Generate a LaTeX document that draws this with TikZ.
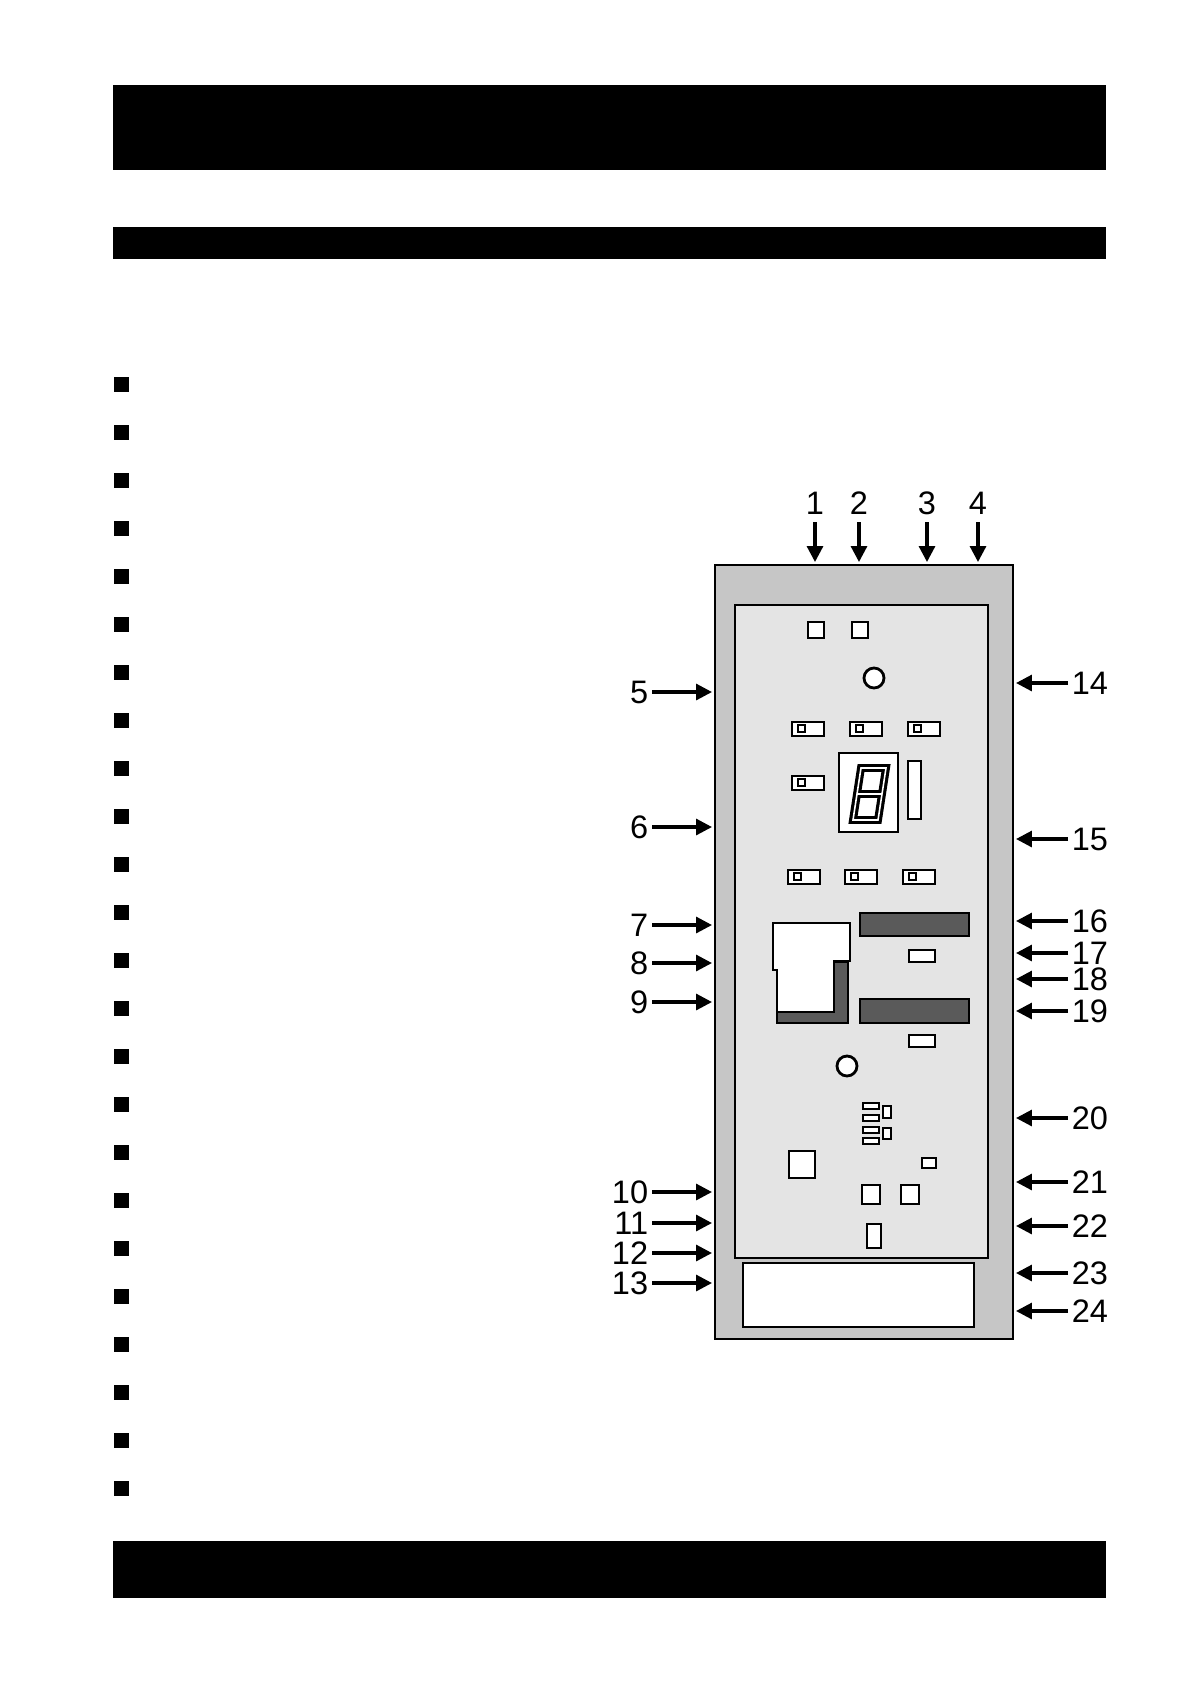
\documentclass[tikz,border=0pt]{standalone}
\usepackage{fontspec}
\setmainfont{Liberation Sans}
\usetikzlibrary{arrows.meta}

\definecolor{panelgray}{HTML}{C6C6C6}
\definecolor{facegray}{HTML}{E4E4E4}
\definecolor{bargray}{HTML}{5A5A5A}

\begin{document}
\begin{tikzpicture}[%
      x=0.02cm, y=-0.02cm,
      part/.style={draw=black, line width=1.6pt, fill=white},
      callout/.style={line width=1.8pt, -{Triangle[length=9pt,width=9pt]}},
      num/.style={font=\fontsize{18.5}{20}\selectfont, inner sep=2pt},
      ]
      \useasboundingbox (0,0) rectangle (1191,1684);

      % header and footer bars
      \fill [black] (113,85) rectangle (1106,170);
      \fill [black] (113,227) rectangle (1106,259);
      \fill [black] (113,1541) rectangle (1106,1598);

      % bullets
      \foreach \i in {0,...,23}
        \fill [black] (114,{377+48*\i}) rectangle (129,{392+48*\i});

      % panel
      \draw [line width=1.6pt, fill=panelgray] (715,565) rectangle (1013,1339);
      \draw [line width=1.6pt, fill=facegray] (735,605) rectangle (988,1258);
      \draw [part] (743,1263) rectangle (974,1327);

      % upper parts
      \draw [part] (808,622) rectangle (824,638);
      \draw [part] (852,622) rectangle (868,638);
      \draw [part] (874,678) circle (10);
      \foreach \x/\y in {808/729,866/729,924/729,808/783,804/877,861/877,919/877} {
        \draw [part] (\x-16,\y-7) rectangle (\x+16,\y+7);
        \draw [line width=1.2pt] (\x-10,\y-4) rectangle (\x-3,\y+3);
      }
      \draw [part] (839,753) rectangle (898,832);
      \draw [line width=1.8pt, double=white, double distance=0.9pt, line join=miter]
        (861,768) -- (886,768) -- (878,820) -- (853,820) -- cycle
        (857,794) -- (882,794);
      \draw [part] (908,761) rectangle (921,819);

      % middle parts
      \draw [line width=1.6pt, fill=bargray] (777,962) rectangle (848,1023);
      \draw [line width=1.6pt, fill=white] (773,923) -- (850,923) -- (850,961) -- (834,961)
        -- (834,1012) -- (777,1012) -- (777,970) -- (773,970) -- cycle;
      \draw [line width=1.6pt, fill=bargray] (860,913) rectangle (969,936);
      \draw [line width=1.6pt, fill=bargray] (860,999) rectangle (969,1023);
      \draw [part] (909,950) rectangle (935,962);
      \draw [part] (909,1035) rectangle (935,1047);
      \draw [part] (847,1066) circle (10);

      % lower parts
      \foreach \y in {1103,1115,1127,1138}
        \draw [part, line width=1.2pt] (863,\y) rectangle (879,\y+6);
      \draw [part, line width=1.2pt] (883,1106) rectangle (891,1118);
      \draw [part, line width=1.2pt] (883,1128) rectangle (891,1139);
      \draw [part] (789,1151) rectangle (815,1178);
      \draw [part, line width=1.2pt] (922,1158) rectangle (936,1168);
      \draw [part] (862,1185) rectangle (880,1204);
      \draw [part] (901,1185) rectangle (919,1204);
      \draw [part] (867,1224) rectangle (881,1248);

      % callouts, top
      \foreach \n/\x in {1/815,2/859,3/927,4/978} {
        \node [num] (t\n) at (\x,503) {\n};
        \coordinate (tp\n) at (\x,562);
        \draw [callout] (\x,522) -- (tp\n);
      }
      % callouts, left
      \foreach \n/\y in {5/692,6/827,7/925,8/963,9/1002,10/1192,11/1223,12/1253,13/1283} {
        \node [num, anchor=east] (l\n) at (652,\y) {\n};
        \coordinate (lp\n) at (712,\y);
        \draw [callout] (l\n.east) -- (lp\n);
      }
      % callouts, right
      \foreach \n/\y in {14/683,15/839,16/921,17/953,18/979,19/1011,20/1118,21/1182,22/1226,23/1273,24/1311} {
        \node [num, anchor=west] (r\n) at (1068,\y) {\n};
        \coordinate (rp\n) at (1016,\y);
        \draw [callout] (r\n.west) -- (rp\n);
      }
\end{tikzpicture}
\end{document}
